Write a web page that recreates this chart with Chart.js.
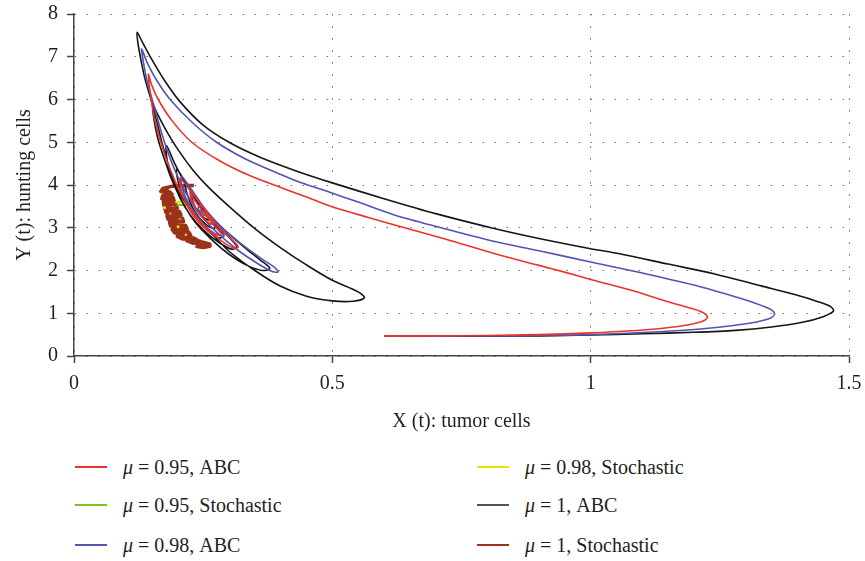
<!DOCTYPE html>
<html>
<head>
<meta charset="utf-8">
<script src="https://cdn.jsdelivr.net/npm/chart.js@4.4.1/dist/chart.umd.min.js"></script>
<style>
  html, body { margin: 0; padding: 0; background: #fff; }
  #wrap { position: relative; width: 865px; height: 561px; overflow: hidden; }
  #legend { position: absolute; left: 0; top: 440px; width: 865px; height: 121px;
            font-family: "Liberation Serif", serif; font-size: 20px; color: #231f20; }
  .item { position: absolute; display: flex; align-items: center; height: 24px; white-space: nowrap; }
  .swatch { width: 32px; height: 2px; margin-right: 16px; }
</style>
</head>
<body>
<div id="wrap">
  <canvas id="chart" width="865" height="440"></canvas>
  <div id="legend"></div>
</div>
<script>
const abc095 = [
  [0.60,0.47],[0.70,0.47],[0.80,0.48],[0.90,0.50],[1.00,0.54],[1.08,0.59],[1.14,0.65],[1.19,0.73],
  [1.22,0.83],[1.226,0.92],[1.215,1.03],[1.19,1.13],[1.15,1.27],[1.08,1.53],[1.00,1.79],[0.953,1.95],
  [0.90,2.12],[0.818,2.38],[0.72,2.73],[0.64,3.00],[0.57,3.24],[0.495,3.51],[0.45,3.72],[0.405,3.92],
  [0.34,4.22],[0.28,4.58],[0.228,5.00],[0.19,5.50],[0.163,6.00],[0.15,6.35],[0.144,6.59],
  [0.147,6.20],[0.155,5.60],[0.168,5.00],[0.185,4.40],[0.207,3.80],[0.232,3.32],[0.26,2.95],[0.29,2.65],
  [0.31,2.52],[0.318,2.55],[0.305,2.73],[0.28,3.02],[0.255,3.40],[0.23,3.80],[0.205,4.15],
  [0.208,3.85],[0.222,3.45],[0.245,3.08],[0.27,2.85],[0.285,2.85],[0.275,3.00],[0.255,3.30],[0.235,3.62],
  [0.225,3.80],[0.232,3.50],[0.25,3.22],[0.268,3.08],[0.266,3.18],[0.252,3.38],[0.245,3.35]
];
const sto095 = [
  [0.199,3.53],[0.226,3.54], null, [0.203,3.22],[0.207,3.19], null, [0.185,3.35],[0.188,3.31]
];
const abc098 = [
  [0.60,0.47],[0.70,0.465],[0.80,0.47],[0.90,0.48],[1.00,0.50],[1.10,0.55],[1.20,0.62],[1.26,0.69],
  [1.31,0.77],[1.345,0.87],[1.356,0.98],[1.35,1.08],[1.32,1.23],[1.27,1.42],[1.20,1.66],[1.10,1.94],
  [1.00,2.20],[0.90,2.46],[0.80,2.72],[0.714,2.99],[0.62,3.30],[0.55,3.60],[0.495,3.83],[0.44,4.05],
  [0.38,4.35],[0.33,4.62],[0.276,5.00],[0.23,5.45],[0.186,6.00],[0.16,6.45],[0.142,6.85],[0.131,7.18],
  [0.134,6.90],[0.142,6.40],[0.155,5.85],[0.17,5.20],[0.19,4.50],[0.215,3.85],[0.245,3.30],[0.28,2.85],
  [0.32,2.45],[0.36,2.13],[0.385,1.97],[0.395,1.97],[0.385,2.10],[0.36,2.30],[0.32,2.66],[0.285,3.02],
  [0.255,3.42],[0.23,3.85],[0.208,4.20],[0.21,3.90],[0.225,3.50],[0.25,3.10],[0.272,2.87],[0.29,2.80],
  [0.285,2.93],[0.265,3.22],[0.245,3.55],[0.225,3.87],[0.23,3.60],[0.245,3.30],[0.262,3.10],[0.272,3.12],
  [0.26,3.32],[0.245,3.52],[0.24,3.45],[0.25,3.30],[0.258,3.28]
];
const sto098 = [
  [0.196,3.60],[0.232,3.61], null, [0.174,3.50],[0.177,3.44], null, [0.20,3.05],[0.203,3.00],
  null, [0.215,2.85],[0.218,2.82]
];
const abc1 = [
  [0.60,0.47],[0.70,0.465],[0.80,0.465],[0.90,0.47],[1.00,0.49],[1.10,0.52],[1.20,0.555],[1.28,0.60],
  [1.35,0.68],[1.41,0.79],[1.45,0.92],[1.47,1.05],[1.465,1.15],[1.44,1.27],[1.40,1.42],[1.33,1.64],
  [1.24,1.92],[1.15,2.15],[1.056,2.39],[1.00,2.51],[0.90,2.75],[0.811,2.99],[0.70,3.33],[0.60,3.68],
  [0.50,4.05],[0.43,4.33],[0.36,4.65],[0.30,5.00],[0.25,5.40],[0.205,5.95],[0.175,6.45],[0.15,6.95],
  [0.132,7.35],[0.122,7.57],
  [0.124,7.30],[0.13,6.90],[0.137,6.50],[0.149,6.00],[0.16,5.50],[0.17,5.00],[0.182,4.50],[0.195,4.02],
  [0.215,3.60],[0.24,3.20],[0.27,2.82],[0.30,2.45],[0.35,2.00],[0.40,1.63],[0.45,1.40],[0.50,1.29],
  [0.54,1.28],[0.562,1.36],[0.55,1.50],[0.50,1.77],[0.45,2.13],[0.40,2.53],[0.35,2.98],[0.30,3.50],
  [0.26,3.95],[0.23,4.35],[0.20,4.85],[0.175,5.35],[0.16,5.70],[0.153,5.87],
  [0.154,5.60],[0.162,5.10],[0.175,4.60],[0.19,4.10],[0.21,3.60],[0.235,3.12],[0.27,2.68],[0.30,2.38],
  [0.335,2.12],[0.365,2.00],[0.379,2.05],[0.36,2.25],[0.334,2.50],[0.30,2.85],[0.27,3.20],[0.24,3.62],
  [0.215,4.05],[0.195,4.50],[0.179,4.92],
  [0.18,4.60],[0.19,4.15],[0.205,3.70],[0.225,3.30],[0.25,2.95],[0.28,2.66],[0.305,2.50],[0.315,2.56],
  [0.30,2.78],[0.275,3.08],[0.25,3.45],[0.225,3.88],[0.199,4.37],
  [0.202,4.05],[0.215,3.65],[0.235,3.25],[0.26,2.92],[0.28,2.76],[0.29,2.82],[0.275,3.05],[0.255,3.35],
  [0.235,3.70],[0.215,4.05],[0.22,3.75],[0.235,3.35],[0.255,3.08],[0.272,2.98],[0.27,3.10],[0.255,3.30],
  [0.24,3.55],[0.228,3.75],[0.235,3.45],[0.25,3.25],[0.262,3.18],[0.255,3.32],[0.245,3.42]
];
const sto1 = [
  [0.232,3.99],[0.211,3.99],[0.19,3.97],[0.172,3.92],[0.168,3.85],[0.185,3.84],[0.19,3.78],[0.172,3.76],[0.17,3.68],
  [0.192,3.70],[0.194,3.62],[0.173,3.60],[0.174,3.52],[0.197,3.55],[0.20,3.46],[0.176,3.44],[0.178,3.36],
  [0.204,3.38],[0.207,3.30],[0.18,3.28],[0.182,3.20],[0.21,3.22],[0.212,3.14],[0.185,3.12],[0.187,3.04],
  [0.216,3.05],[0.219,2.97],[0.19,2.96],[0.195,2.88],[0.222,2.90],[0.226,2.82],[0.20,2.80],[0.21,2.74],
  [0.232,2.76],[0.24,2.70],[0.218,2.70],[0.23,2.64],[0.25,2.66],[0.262,2.62],[0.263,2.57],[0.25,2.54],
  [0.238,2.56],[0.24,2.62],[0.255,2.60],[0.245,2.68],[0.226,2.74],[0.212,2.82],[0.205,2.92],[0.20,3.02],
  [0.196,3.12],[0.192,3.22],[0.188,3.34],[0.185,3.44],[0.183,3.56],[0.18,3.68],[0.178,3.80],[0.18,3.90],
  [0.176,3.72],[0.186,3.64],[0.179,3.48],[0.19,3.40],[0.184,3.26],[0.197,3.18],[0.191,3.08],[0.205,3.00],
  [0.198,2.92],[0.214,2.86],[0.207,2.78],[0.222,2.72]
];

const seriesLabels = ["0.95, ABC", "0.95, Stochastic", "0.98, ABC", "0.98, Stochastic", "1, ABC", "1, Stochastic"];
const seriesData = [abc095, sto095, abc098, sto098, abc1, sto1];
const seriesColors = ["#e8342b", "#7dc31d", "#5054b3", "#f2e200", "#161616", "#9b3219"];
const legendSwatch = ["#e8342b", "#7dc31d", "#5054b3", "#f2e200", "#555555", "#9b3219"];
const seriesWidth = [1.6, 2.2, 1.6, 2.4, 1.6, 3.6];
const seriesTension = [0.3, 0, 0.3, 0, 0.3, 0];
const seriesOrder = [1, 4, 2, 5, 3, 6]; // lower order is drawn on top

const textColor = "#231f20";
const serif = "'Liberation Serif', 'Times New Roman', serif";
Chart.defaults.font.family = serif;
Chart.defaults.font.size = 20;
Chart.defaults.color = textColor;

const toXY = pts => pts.map(p => p ? { x: p[0], y: p[1] } : { x: null, y: null });

const datasets = seriesData.map((pts, i) => ({
  label: "\u03bc = " + seriesLabels[i],
  data: toXY(pts),
  showLine: true,
  borderColor: seriesColors[i],
  backgroundColor: seriesColors[i],
  borderWidth: seriesWidth[i],
  borderJoinStyle: "round",
  pointRadius: 0,
  tension: seriesTension[i],
  spanGaps: false,
  order: seriesOrder[i]
}));

const makeAxis = (min, max, step, title, titlePad, fit) => ({
  type: "linear",
  min: min, max: max,
  ticks: {
    stepSize: step, padding: 9, maxRotation: 0, color: textColor,
    font: { family: serif, size: 20 },
    callback: v => String(v)
  },
  grid: { color: "#6e6e6e", lineWidth: 1, tickLength: 7, tickColor: "#444", tickWidth: 1.5, tickBorderDash: [] },
  border: { color: "#444", width: 1.5, dash: [1.6, 10.4] },
  title: { display: true, text: title, color: textColor, font: { family: serif, size: 20 }, padding: titlePad },
  afterFit: fit
});

new Chart(document.getElementById("chart").getContext("2d"), {
  type: "scatter",
  data: { datasets },
  options: {
    responsive: false,
    animation: false,
    devicePixelRatio: 1,
    layout: { padding: { top: 14, right: 16, left: 0, bottom: 0 } },
    plugins: { legend: { display: false }, tooltip: { enabled: false } },
    scales: {
      x: makeAxis(0, 1.5, 0.5, "X (t): tumor cells", { top: 0, bottom: 6 }, s => {
        s.height = 84; s.paddingLeft = 0; s.paddingRight = 0;
      }),
      y: makeAxis(0, 8, 1, "Y (t): hunting cells", { top: 13, bottom: 0 }, s => {
        s.width = 74; s.paddingTop = 0; s.paddingBottom = 0;
      })
    }
  }
});

// Two-column legend, filled column by column like the original
const legend = document.getElementById("legend");
const colLeft = [75, 477];
const rowTop = [15, 53, 93];
seriesLabels.forEach((lab, i) => {
  const item = document.createElement("div");
  item.className = "item";
  item.style.left = colLeft[Math.floor(i / 3)] + "px";
  item.style.top = rowTop[i % 3] + "px";
  item.innerHTML = '<span class="swatch" style="background:' + legendSwatch[i] + '"></span>' +
    '<span><i>\u03bc</i> = ' + lab + '</span>';
  legend.appendChild(item);
});
</script>
</body>
</html>
